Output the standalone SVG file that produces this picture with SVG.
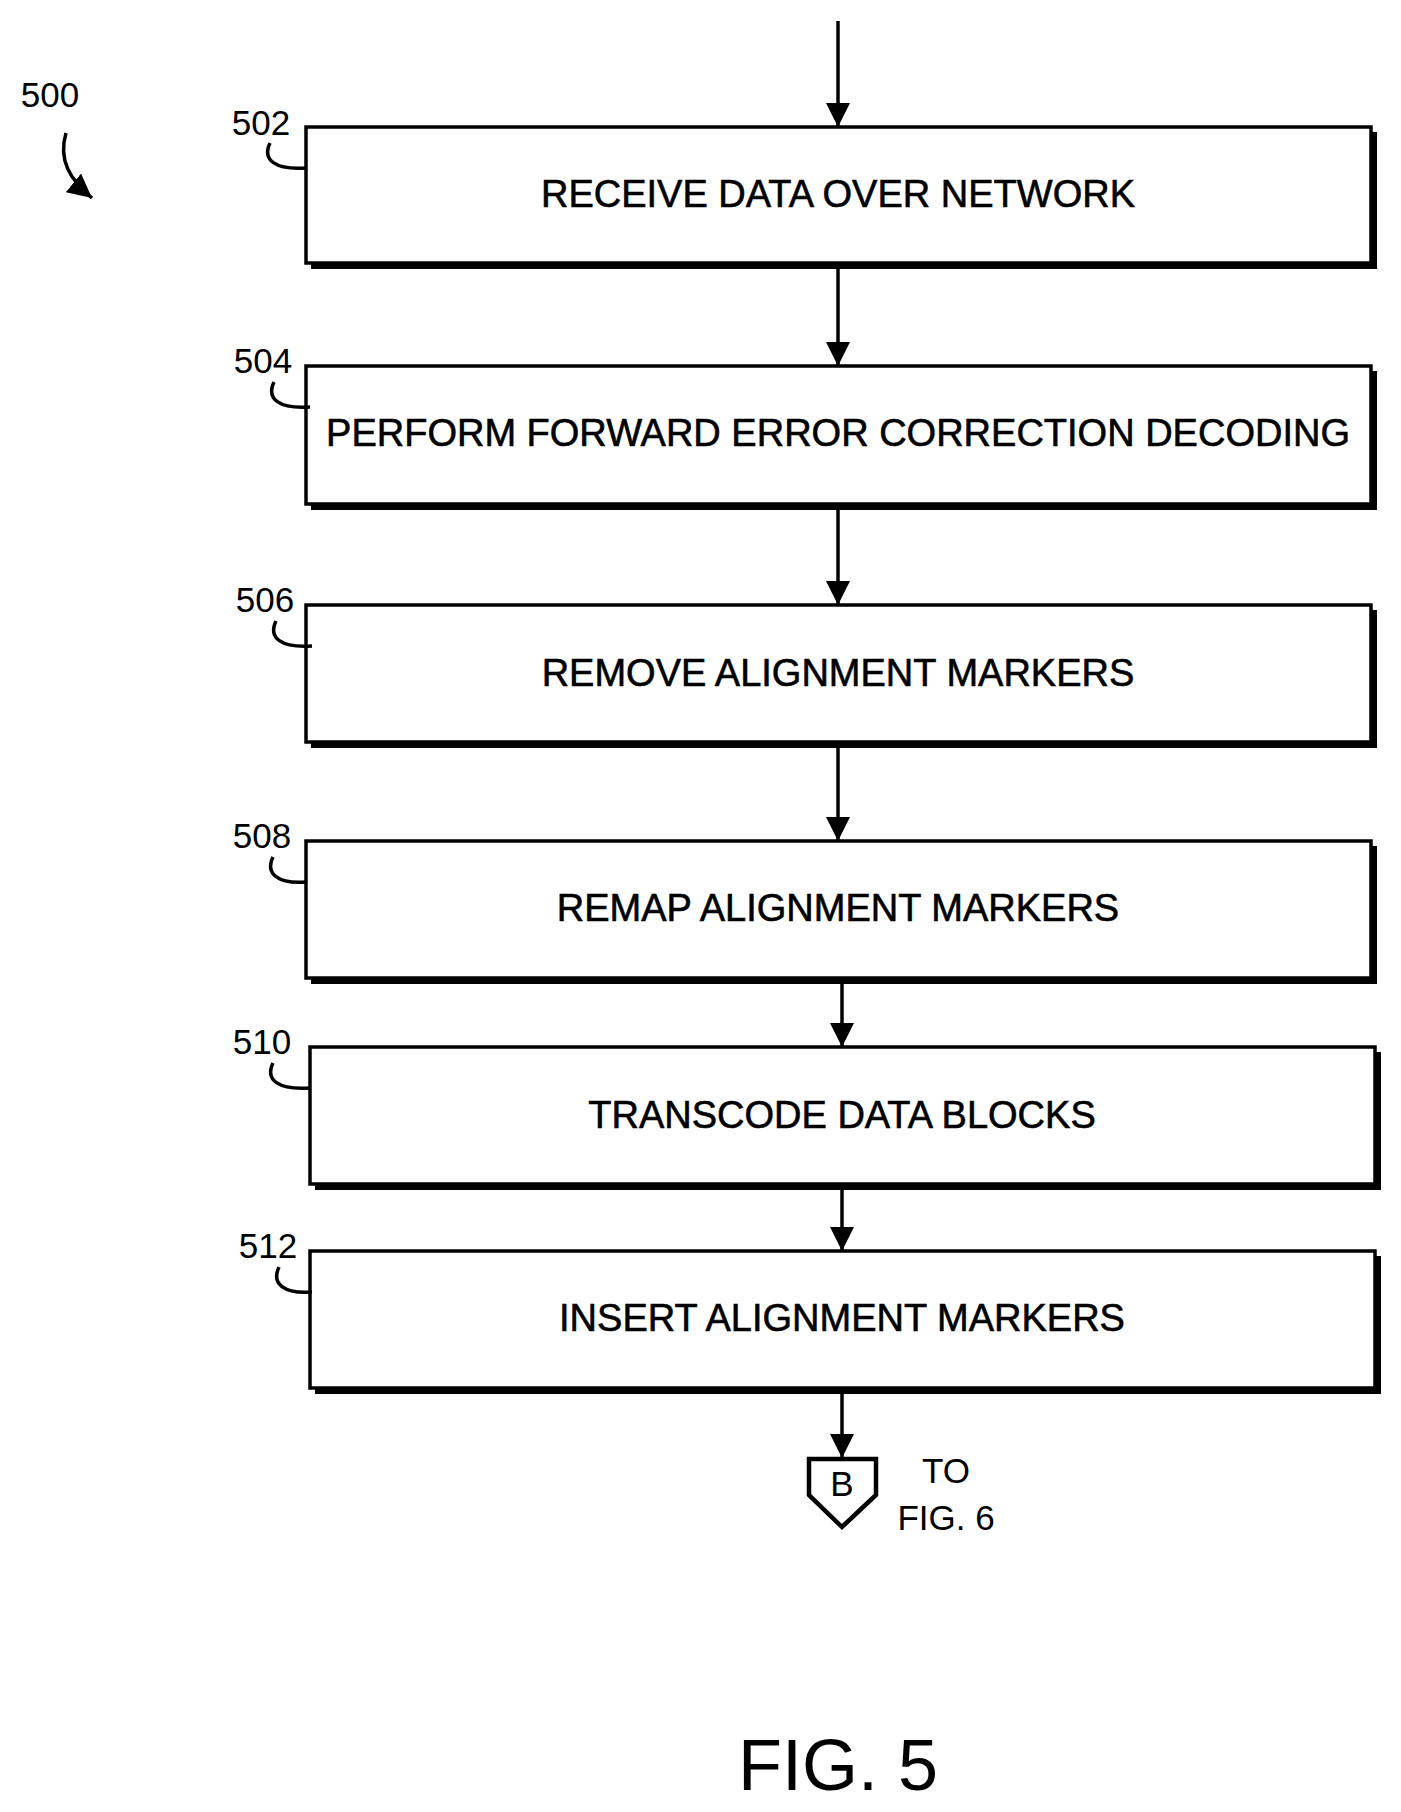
<svg xmlns="http://www.w3.org/2000/svg" width="1401" height="1812" viewBox="0 0 1401 1812">
<style>
.box{fill:#fff;stroke:#000;stroke-width:3.5}
.sh{fill:none;stroke:#000;stroke-width:6}
.t{font-family:"Liberation Sans",Arial,sans-serif;font-size:38px;text-anchor:middle;stroke:#000;stroke-width:0.6}
.lb{font-family:"Liberation Sans",Arial,sans-serif;font-size:35px;text-anchor:middle}
.ln{fill:none;stroke:#000;stroke-width:3.5}
</style>
<defs>
<marker id="a" viewBox="0 0 12 12" refX="12" refY="6" markerWidth="24" markerHeight="24" markerUnits="userSpaceOnUse" orient="auto"><path d="M0,0 L12,6 L0,12 z"/></marker>
</defs>
<rect width="1401" height="1812" fill="#fff"/>
<text class="lb" x="50" y="107">500</text>
<path class="ln" d="M66,133 C58,160 70,180 92,198" marker-end="url(#a)"/>
<g id="connectors">
<line class="ln" x1="838" y1="21" x2="838" y2="127" marker-end="url(#a)"/>
<line class="ln" x1="838" y1="266" x2="838" y2="366" marker-end="url(#a)"/>
<line class="ln" x1="838" y1="507" x2="838" y2="605" marker-end="url(#a)"/>
<line class="ln" x1="838" y1="745" x2="838" y2="841" marker-end="url(#a)"/>
<line class="ln" x1="842" y1="981" x2="842" y2="1047" marker-end="url(#a)"/>
<line class="ln" x1="842" y1="1187" x2="842" y2="1251" marker-end="url(#a)"/>
<line class="ln" x1="842" y1="1391" x2="842" y2="1458" marker-end="url(#a)"/>
</g>
<g id="n502"><path class="sh" d="M311,266 H1374 V132"/><rect class="box" x="306" y="127" width="1065" height="136"/><text class="t" x="838" y="207">RECEIVE DATA OVER NETWORK</text><text class="lb" x="261" y="135">502</text><path class="ln" d="M270,143 C262,160 275,170 306,168"/></g>
<g id="n504"><path class="sh" d="M311,507 H1374 V371"/><rect class="box" x="306" y="366" width="1065" height="138"/><text class="t" x="838" y="446">PERFORM FORWARD ERROR CORRECTION DECODING</text><text class="lb" x="263" y="373">504</text><path class="ln" d="M274,382 C266,399 279,409 310,407"/></g>
<g id="n506"><path class="sh" d="M311,745 H1374 V610"/><rect class="box" x="306" y="605" width="1065" height="137"/><text class="t" x="838" y="686">REMOVE ALIGNMENT MARKERS</text><text class="lb" x="265" y="612">506</text><path class="ln" d="M276,621 C268,638 281,648 312,646"/></g>
<g id="n508"><path class="sh" d="M311,981 H1374 V846"/><rect class="box" x="306" y="841" width="1065" height="137"/><text class="t" x="838" y="921">REMAP ALIGNMENT MARKERS</text><text class="lb" x="262" y="848">508</text><path class="ln" d="M273,857 C265,874 278,884 306,882"/></g>
<g id="n510"><path class="sh" d="M315,1187 H1378 V1052"/><rect class="box" x="310" y="1047" width="1065" height="137"/><text class="t" x="842" y="1128">TRANSCODE DATA BLOCKS</text><text class="lb" x="262" y="1054">510</text><path class="ln" d="M273,1063 C265,1080 278,1090 310,1088"/></g>
<g id="n512"><path class="sh" d="M315,1391 H1378 V1256"/><rect class="box" x="310" y="1251" width="1065" height="137"/><text class="t" x="842" y="1331">INSERT ALIGNMENT MARKERS</text><text class="lb" x="268" y="1258">512</text><path class="ln" d="M279,1267 C271,1284 284,1294 312,1292"/></g>
<g id="offpage"><path d="M809,1459 H876 V1495 L842,1527 L809,1495 Z" fill="#fff" stroke="#000" stroke-width="4.5"/><text class="lb" x="842" y="1496">B</text><text class="lb" x="946" y="1483">TO</text><text class="lb" x="946" y="1530">FIG. 6</text></g>
<text x="838" y="1790" font-family="Liberation Sans,Arial,sans-serif" font-size="72" text-anchor="middle">FIG. 5</text>
</svg>
